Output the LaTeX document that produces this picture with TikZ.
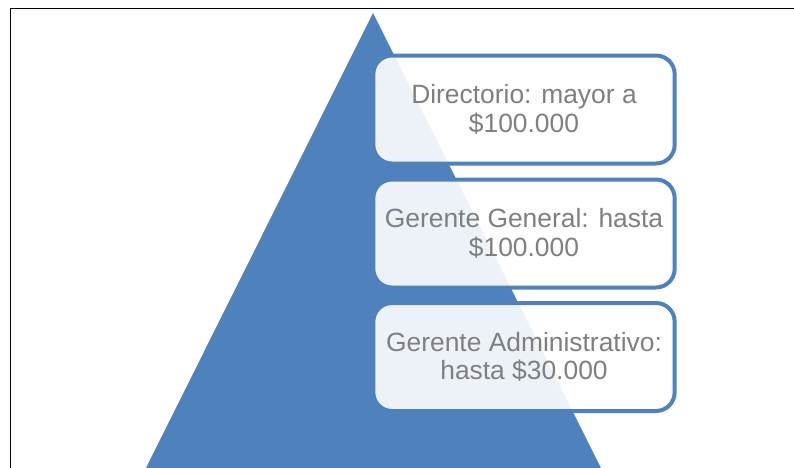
\documentclass[tikz,border=0pt]{standalone}
\usepackage{fontspec}
\setmainfont{Liberation Sans}
\definecolor{pyrblue}{RGB}{79,129,189}
\definecolor{labelgray}{RGB}{127,127,127}
\begin{document}
\begin{tikzpicture}[x=0.75pt,y=-0.75pt,
        level/.style={draw=pyrblue, line width=3pt, rounded corners=14pt,
            fill=white, fill opacity=0.9, text opacity=1, text=labelgray,
            minimum width=226pt, minimum height=81pt, align=center,
            font=\fontsize{19.8}{21.5}\selectfont}]
            \useasboundingbox (0,0) rectangle (794,468);
            \draw[line width=1.2pt] (10.5,468) -- (10.5,8.5) -- (794,8.5);

            % pyramid
            \fill[pyrblue] (373,13) -- (601,468) -- (146,468) -- cycle;

            \node[level] (dir) at (524,109.5) {Directorio: mayor a\\\$100.000};
            \node[level] (gg) at (524,233.5) {Gerente General: hasta\\\$100.000};
            \node[level] (ga) at (524,357) {Gerente Administrativo:\\hasta \$30.000};
        \end{tikzpicture}
\end{document}
